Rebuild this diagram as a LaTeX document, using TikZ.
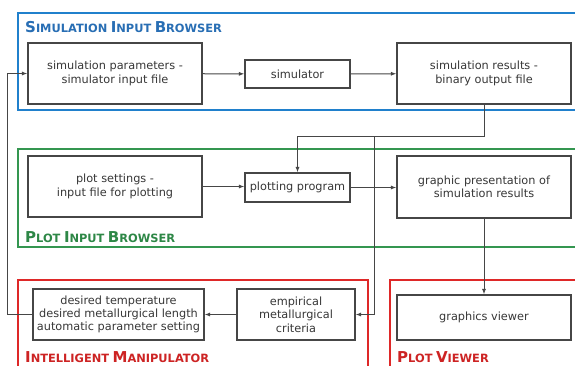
\documentclass[tikz,border=0pt]{standalone}
\usepackage{fontspec}
\setmainfont{DejaVu Sans}
\usetikzlibrary{arrows.meta}
\definecolor{fblue}{RGB}{32,128,204}
\definecolor{tblue}{RGB}{40,110,180}
\definecolor{fgreen}{RGB}{52,150,80}
\definecolor{tgreen}{RGB}{45,135,70}
\definecolor{fred}{RGB}{222,40,40}
\definecolor{tred}{RGB}{205,35,35}
\definecolor{boxline}{RGB}{70,70,70}
\definecolor{txt}{RGB}{55,55,55}
\newcommand{\mysc}[2]{{\fontsize{15}{15}\selectfont #1}{\fontsize{11.4}{11.4}\selectfont #2}}
\tikzset{
  frame/.style={line width=2pt},
  boxnode/.style={draw=boxline, line width=1.1pt, inner sep=0pt, align=center, text=txt,
    font=\fontsize{11.3}{13.3}\selectfont},
  arr/.style={draw=boxline, line width=1pt, -{Latex[length=5.5pt,width=4pt]}},
  ttl/.style={anchor=west, inner sep=0pt, font=\bfseries}
}
\begin{document}
\begin{tikzpicture}[x=1pt,y=-1pt]
\useasboundingbox (0,0) rectangle (575,365);
\clip (0,0) rectangle (575,365);
\fill[white] (0,0) rectangle (575,365);
% frames
\draw[frame, fblue] (18,13) rectangle (590,110);
\draw[frame, fgreen] (18,149) rectangle (590,247);
\draw[frame, fred] (18,280) rectangle (368,380);
\draw[frame, fred] (390,280) rectangle (590,380);
% titles
\node[ttl, text=tblue] (t1) at (25,27) {\mysc{S}{IMULATION} \mysc{I}{NPUT} \mysc{B}{ROWSER}};
\node[ttl, text=tgreen] (t2) at (25,237) {\mysc{P}{LOT} \mysc{I}{NPUT} \mysc{B}{ROWSER}};
\node[ttl, text=tred] (t3) at (25,357) {\mysc{I}{NTELLIGENT} \mysc{M}{ANIPULATOR}};
\node[ttl, text=tred] (t4) at (397,357) {\mysc{P}{LOT} \mysc{V}{IEWER}};
% boxes
\node[boxnode, minimum width=174pt, minimum height=61pt] (inp) at (115,73.5) {simulation parameters -\\simulator input file};
\node[boxnode, minimum width=105pt, minimum height=28pt] (sim) at (297.5,74) {simulator};
\node[boxnode, minimum width=174pt, minimum height=61pt] (res) at (484,73.5) {simulation results -\\binary output file};
\node[boxnode, minimum width=174pt, minimum height=61pt] (pset) at (115,186.5) {plot settings -\\input file for plotting};
\node[boxnode, minimum width=105pt, minimum height=29pt] (pprog) at (297.5,187.5) {plotting program};
\node[boxnode, minimum width=174pt, minimum height=62pt] (gp) at (484,187) {graphic presentation of\\simulation results};
\node[boxnode, minimum width=171pt, minimum height=51pt] (des) at (118.5,314.5) {desired temperature\\desired metallurgical length\\automatic parameter setting};
\node[boxnode, minimum width=118pt, minimum height=51pt] (emp) at (296,314.5) {empirical\\metallurgical\\criteria};
\node[boxnode, minimum width=174pt, minimum height=45pt] (gv) at (484,317.5) {graphics viewer};
% connectors
\coordinate (j2) at (374,136);
\coordinate (fb) at (7,0);
\draw[arr] (inp) -- (sim);
\draw[arr] (sim) -- (res);
\draw[arr] (pset.east) -- (pset.east -| pprog.west);
\draw[arr] (pprog.east) -- (pprog.east -| gp.west);
\draw[arr] (res.south) -- (res.south |- j2) -- (pprog.north |- j2) -- (pprog.north);
\draw[arr] (j2) -- (j2 |- emp.east) -- (emp.east);
\draw[arr] (gp.south) -- (gv.north);
\draw[arr] (emp.west) -- (des.east);
\draw[arr] (des.west) -- (des.west -| fb) -- (fb |- inp.west) -- (inp.west);
\end{tikzpicture}
\end{document}
